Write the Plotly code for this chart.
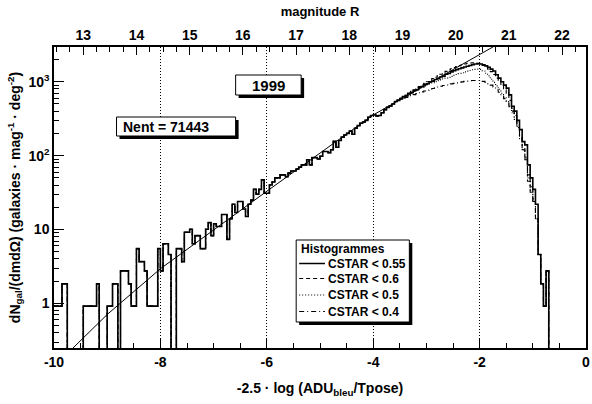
import numpy as np
import plotly.graph_objects as go

# histogram binning (bins of 0.05 starting at -10)
x_start = -10.0
bin_width = 0.05

# CSTAR < 0.55 (solid), counts per bin, bins 0..185
cstar_055 = [
    0.92, 0.92, 0.92, 1.84, 1.84, 0, 0, 0, 0, 0,
    0, 0.92, 0.92, 0.92, 0.92, 0.92, 1.84, 0, 0, 0,
    0.92, 0.92, 1.84, 1.84, 0, 2.76, 2.76, 2.76, 1.84, 0.92,
    0.92, 5.52, 3.68, 3.68, 2.76, 0.92, 0.92, 0.92, 0.92, 5.52,
    2.76, 6.44, 6.44, 4.6, 0, 0, 5.52, 5.52, 3.68, 9.2,
    9.2, 10.1, 6.44, 8.28, 8.28, 5.52, 5.52, 10.1, 12.4, 8.28,
    12, 11, 11, 16, 16, 7.36, 14, 22, 17, 24,
    24, 19, 15, 22, 25, 35, 30, 35, 47, 31,
    31, 40, 44, 50, 50, 55, 55, 52, 58, 62,
    62, 66, 70, 75, 75, 88, 75, 94, 94, 90,
    98, 114, 114, 110, 120, 156, 130, 160, 178, 190,
    200, 215, 195, 235, 255, 275, 285, 300, 330, 350,
    355, 345, 350, 380, 420, 450, 470, 500, 540, 560,
    590, 630, 640, 700, 710, 760, 780, 840, 860, 920,
    940, 1000, 1020, 1070, 1100, 1160, 1190, 1260, 1290, 1360,
    1410, 1460, 1500, 1540, 1580, 1620, 1660, 1700, 1740, 1760,
    1740, 1700, 1640, 1570, 1480, 1400, 1240, 1120, 1000, 900,
    820, 665, 465, 400, 300, 225, 155, 140, 75, 50,
    35, 22, 4.6, 1.84, 0.92, 2.76,
]

# the other cuts only split away from the solid one near the peak
split_bin = 128
tail_06 = [
    540, 565, 600, 630, 660, 700, 740, 780, 820, 860,
    900, 950, 1000, 1050, 1100, 1150, 1200, 1260, 1320, 1380,
    1440, 1500, 1550, 1600, 1650, 1700, 1740, 1770, 1790, 1800,
    1790, 1760, 1720, 1660, 1580, 1480, 1370, 1250, 1120, 1000,
    880, 780, 680, 560, 440, 350, 260, 180, 130, 95,
    55, 38, 26, 14, 4.6, 1.84, 0.92, 2.76,
]
tail_05 = [
    540, 560, 585, 610, 640, 670, 700, 735, 770, 800,
    840, 880, 910, 940, 970, 1000, 1030, 1060, 1090, 1120,
    1150, 1180, 1220, 1250, 1290, 1320, 1360, 1390, 1420, 1450,
    1470, 1480, 1470, 1400, 1300, 1200, 1080, 980, 880, 790,
    700, 620, 540, 460, 380, 310, 240, 170, 120, 90,
    50, 34, 24, 14, 4.6, 1.84, 0.92, 2.76,
]
tail_04 = [
    540, 560, 580, 600, 615, 630, 650, 670, 690, 710,
    730, 750, 770, 790, 810, 830, 850, 870, 890, 905,
    920, 935, 950, 965, 980, 995, 1010, 1020, 1030, 1040,
    1040, 1040, 1030, 1010, 980, 940, 900, 850, 780, 720,
    650, 590, 540, 470, 400, 330, 250, 180, 120, 88,
    45, 32, 24, 14, 4.6, 1.84, 0.92, 2.76,
]

cstar_06 = cstar_055[:split_bin] + tail_06
cstar_05 = cstar_055[:split_bin] + tail_05
cstar_04 = cstar_055[:split_bin] + tail_04

series_names = ["CSTAR < 0.55", "CSTAR < 0.6", "CSTAR < 0.5", "CSTAR < 0.4"]
series_dash = ["solid", "4px,3px", "1px,2px", "5px,3px,1px,3px"]
series_counts = [cstar_055, cstar_06, cstar_05, cstar_04]

# fitted power law
fit_x = [-9.75, -9.0, -8.0, -6.0, -4.0, -2.0, -1.6]
fit_y = [0.21, 0.71, 2.95, 33, 355, 2340, 3400]

# top axis: magnitude R = x + offset
mag_offset = 22.45
mag_ticks = list(range(13, 23))

x_ticks = [-10, -8, -6, -4, -2, 0]
y_ticks = [1, 10, 100, 1000]
y_ticktext = ["1", "10", "10<sup>2</sup>", "10<sup>3</sup>"]

W, H = 592, 404
L, R, T, B = 54, 590, 47, 348
FONT = "Liberation Sans, Arial, sans-serif"


def px(xp):
    return (xp - L) / (R - L)


def py(yp):
    return (B - yp) / (B - T)


def step_xy(counts):
    edges = x_start + bin_width * np.arange(len(counts) + 1)
    vals = [c if c > 0 else 1e-3 for c in counts] + [1e-3]
    return edges, vals


fig = go.Figure()

# draw the cuts first, solid one on top
for name, dash, counts in list(zip(series_names, series_dash, series_counts))[::-1]:
    ex, ey = step_xy(counts)
    fig.add_trace(go.Scatter(
        x=ex, y=ey, mode="lines", name=name,
        line=dict(color="black", width=1.6 if dash == "solid" else 1.1,
                  dash=dash, shape="hv"),
        showlegend=False, hoverinfo="skip"
    ))

fig.add_trace(go.Scatter(
    x=fit_x, y=fit_y, mode="lines",
    line=dict(color="black", width=1), showlegend=False, hoverinfo="skip"
))

# dummy trace so the top axis exists
fig.add_trace(go.Scatter(x=[mag_offset - 10, mag_offset], y=[1, 1], xaxis="x2",
                         mode="lines", line=dict(width=0), showlegend=False,
                         hoverinfo="skip"))

minor_y = [m * 10.0 ** d for d in range(-1, 4) for m in range(2, 10)]

fig.update_layout(
    width=W, height=H,
    margin=dict(l=L, r=W - R, t=T, b=H - B),
    paper_bgcolor="white", plot_bgcolor="white",
    font=dict(family=FONT, size=14, color="black", weight="bold"),
    xaxis=dict(
        range=[-10, 0], tickmode="array", tickvals=x_ticks,
        ticktext=[str(v) for v in x_ticks], ticklabeloverflow="allow",
        ticks="inside", ticklen=10, tickwidth=1, tickcolor="black",
        minor=dict(tickmode="linear", tick0=-10, dtick=0.5, ticks="inside",
                   ticklen=5, tickcolor="black", showgrid=False),
        showgrid=True, gridcolor="black", griddash="1px,2px", gridwidth=1,
        zeroline=False, showline=True, linecolor="black", linewidth=1.5,
        mirror=False,
        tickfont=dict(size=14, weight="bold"),
        title=dict(text="-2.5 · log (ADU<sub>bleu</sub>/Tpose)",
                   font=dict(size=14, weight="bold"), standoff=15),
    ),
    xaxis2=dict(
        overlaying="x", side="top", anchor="y",
        range=[mag_offset - 10, mag_offset],
        tickmode="array", tickvals=mag_ticks,
        ticks="inside", ticklen=8, tickcolor="black",
        minor=dict(tickmode="linear", tick0=13, dtick=0.25, ticks="inside",
                   ticklen=5, tickcolor="black", showgrid=False),
        showgrid=False, zeroline=False, showline=True, linecolor="black",
        linewidth=1.5, tickfont=dict(size=14, weight="bold"),
        title=dict(text="magnitude R", font=dict(size=13, weight="bold"),
                   standoff=7),
    ),
    yaxis=dict(
        type="log", range=[np.log10(0.25), np.log10(2950)],
        tickmode="array", tickvals=y_ticks, ticktext=y_ticktext,
        ticks="inside", ticklen=10, tickcolor="black",
        minor=dict(tickmode="array", tickvals=minor_y, ticks="inside",
                   ticklen=5, tickcolor="black", showgrid=False),
        showgrid=False, zeroline=False, showline=True, linecolor="black",
        linewidth=1.5, mirror=True,
        tickfont=dict(size=14, weight="bold"),
        title=dict(text="dN<sub>gal</sub>/(dmdΩ) (galaxies · mag<sup>-1</sup> · deg<sup>-2</sup>)",
                   font=dict(size=14, weight="bold"), standoff=5),
    ),
)

shapes = []
annotations = []


def boxed(x0, y0, x1, y1, sh=3):
    shapes.append(dict(type="rect", xref="paper", yref="paper",
                       x0=px(x0 + sh), x1=px(x1 + sh), y0=py(y1 + sh), y1=py(y0 + sh),
                       fillcolor="black", line=dict(width=0), layer="above"))
    shapes.append(dict(type="rect", xref="paper", yref="paper",
                       x0=px(x0), x1=px(x1), y0=py(y1), y1=py(y0),
                       fillcolor="white", line=dict(color="black", width=1),
                       layer="above"))


def label(text, x, y, size, anchor="left"):
    annotations.append(dict(text=text, x=px(x), y=py(y), xref="paper", yref="paper",
                            xanchor=anchor, yanchor="middle", showarrow=False,
                            font=dict(size=size, weight="bold")))


# text boxes
boxed(237, 75, 303, 95)
label("1999", 270, 85, 15, anchor="center")
boxed(117, 117, 237, 136)
label("Nent = 71443", 122, 126.5, 14)

# legend
boxed(298, 240, 412, 322)
label("Histogrammes", 301, 248.5, 12)
entry_y = [263.5, 278.5, 295, 311.5]
for name, dash, ey in zip(series_names, series_dash, entry_y):
    shapes.append(dict(type="line", xref="paper", yref="paper",
                       x0=px(301), x1=px(327), y0=py(ey), y1=py(ey),
                       line=dict(color="black", width=1.5 if dash == "solid" else 1.1,
                                 dash=dash), layer="above"))
    label(name, 328, ey, 12)

fig.update_layout(shapes=shapes, annotations=annotations)

# page body has a default 8px margin; drop it so the figure sits at the corner
fig.write_html("out.html", config={"displayModeBar": False},
               post_script="document.body.style.margin='0px';")
